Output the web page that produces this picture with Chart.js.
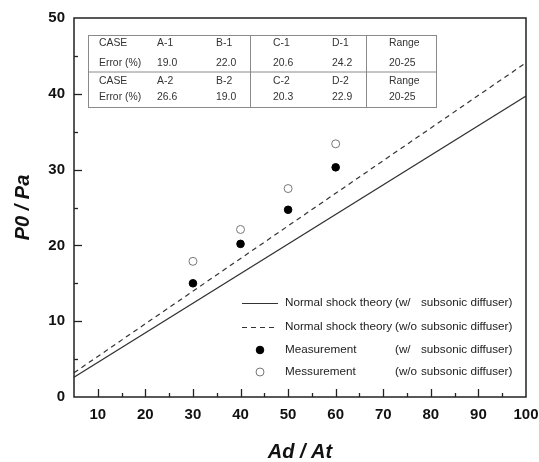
<!DOCTYPE html>
<html>
<head>
<meta charset="utf-8">
<script src="https://cdn.jsdelivr.net/npm/chart.js@4"></script>
<style>
  html, body { margin: 0; padding: 0; background: #fff; }
  #wrap { width: 539px; height: 462px; }
</style>
</head>
<body>
<div id="wrap"><canvas id="chart" width="539" height="462"></canvas></div>
<script>
// --- data ---
const xTicks = [10, 20, 30, 40, 50, 60, 70, 80, 90, 100];
const yTicks = [0, 10, 20, 30, 40, 50];

const theoryX = [5, 100];
const theoryWith = [2.6, 39.7];      // solid line
const theoryWithout = [3.2, 44.1];   // dashed line

const measX = [30, 40, 50, 60];
const measWith = [15.0, 20.2, 24.7, 30.3];     // filled dots
const measWithout = [17.9, 22.1, 27.5, 33.4];  // open dots

const legendNames = ['Normal shock theory', 'Normal shock theory', 'Measurement', 'Messurement'];
const legendConds = ['(w/', '(w/o', '(w/', '(w/o'];
const legendTail = 'subsonic diffuser)';

const tableRows = [
  ['CASE', 'A-1', 'B-1', 'C-1', 'D-1', 'Range'],
  ['Error (%)', '19.0', '22.0', '20.6', '24.2', '20-25'],
  ['CASE', 'A-2', 'B-2', 'C-2', 'D-2', 'Range'],
  ['Error (%)', '26.6', '19.0', '20.3', '22.9', '20-25']
];

const toPts = (xs, ys) => xs.map((x, i) => ({ x: x, y: ys[i] }));
const FONT = '"Liberation Sans", Arial, sans-serif';

// --- frame, inward ticks, table and legend ---
const decor = {
  id: 'decor',
  afterDatasetsDraw(chart) {
    const ctx = chart.ctx;
    const a = chart.chartArea;
    const xs = chart.scales.x, ys = chart.scales.y;
    ctx.save();

    // ticks pointing inward
    ctx.strokeStyle = '#222';
    ctx.lineWidth = 1.3;
    for (let v = 10; v < 100; v += 5) {
      const px = Math.round(xs.getPixelForValue(v)) + 0.5;
      const len = v % 10 === 0 ? 8 : 4;
      ctx.beginPath(); ctx.moveTo(px, a.bottom); ctx.lineTo(px, a.bottom - len); ctx.stroke();
    }
    for (let v = 5; v < 50; v += 5) {
      const py = Math.round(ys.getPixelForValue(v)) + 0.5;
      const len = v % 10 === 0 ? 8 : 4;
      ctx.beginPath(); ctx.moveTo(a.left, py); ctx.lineTo(a.left + len, py); ctx.stroke();
    }

    // frame
    ctx.lineWidth = 1.5;
    ctx.strokeRect(a.left, a.top, a.right - a.left, a.bottom - a.top);

    // table
    const tL = 88, tT = 35, tR = 436, tB = 107, tM = 71.5;
    ctx.strokeStyle = '#8a8a8a';
    ctx.lineWidth = 1;
    ctx.strokeRect(tL + 0.5, tT + 0.5, tR - tL, tB - tT);
    ctx.beginPath();
    ctx.moveTo(tL, tM + 0.5); ctx.lineTo(tR, tM + 0.5);
    ctx.moveTo(250.5, tT); ctx.lineTo(250.5, tB);
    ctx.moveTo(366.5, tT); ctx.lineTo(366.5, tB);
    ctx.stroke();

    const colX = [99, 157, 216, 273, 332, 389];
    const rowY = [43.5, 63, 81, 97];
    ctx.fillStyle = '#333';
    ctx.font = '10.4px ' + FONT;
    ctx.textBaseline = 'middle';
    ctx.textAlign = 'left';
    tableRows.forEach((row, r) => {
      row.forEach((txt, c) => ctx.fillText(txt, colX[c], rowY[r]));
    });

    // legend
    const lgY = [303, 327, 350, 372];
    ctx.font = '11.7px ' + FONT;
    chart.data.datasets.forEach((ds, i) => {
      const y = lgY[i];
      if (ds.showLine) {
        ctx.strokeStyle = '#333';
        ctx.lineWidth = 1.2;
        ctx.setLineDash(ds.borderDash || []);
        ctx.beginPath(); ctx.moveTo(242, y + 0.5); ctx.lineTo(278, y + 0.5); ctx.stroke();
        ctx.setLineDash([]);
      } else {
        ctx.beginPath();
        ctx.arc(260, y, ds.pointRadius, 0, Math.PI * 2);
        ctx.fillStyle = ds.pointBackgroundColor;
        ctx.fill();
        ctx.strokeStyle = ds.pointBorderColor;
        ctx.lineWidth = ds.pointBorderWidth;
        ctx.stroke();
      }
      ctx.fillStyle = '#222';
      ctx.fillText(legendNames[i], 285, y);
      ctx.fillText(legendConds[i], 395, y);
      ctx.fillText(legendTail, 421, y);
    });
    ctx.restore();
  }
};

new Chart(document.getElementById('chart'), {
  type: 'scatter',
  data: {
    datasets: [
      {
        label: 'Normal shock theory (w/ subsonic diffuser)',
        data: toPts(theoryX, theoryWith),
        showLine: true, borderColor: '#333', borderWidth: 1.2, pointRadius: 0
      },
      {
        label: 'Normal shock theory (w/o subsonic diffuser)',
        data: toPts(theoryX, theoryWithout),
        showLine: true, borderColor: '#333', borderWidth: 1.2, borderDash: [5, 4], pointRadius: 0
      },
      {
        label: 'Measurement (w/ subsonic diffuser)',
        data: toPts(measX, measWith),
        showLine: false, pointRadius: 3.8,
        pointBackgroundColor: '#000', pointBorderColor: '#000', pointBorderWidth: 1
      },
      {
        label: 'Messurement (w/o subsonic diffuser)',
        data: toPts(measX, measWithout),
        showLine: false, pointRadius: 4,
        pointBackgroundColor: '#fff', pointBorderColor: '#777', pointBorderWidth: 1
      }
    ]
  },
  options: {
    responsive: false,
    animation: false,
    layout: { padding: { top: 18, right: 13, left: 0, bottom: 0 } },
    plugins: { legend: { display: false }, tooltip: { enabled: false } },
    scales: {
      x: {
        type: 'linear', min: 5, max: 100,
        afterBuildTicks: s => { s.ticks = xTicks.map(v => ({ value: v })); },
        afterFit: s => { s.height = 65; s.paddingLeft = 0; s.paddingRight = 0; },
        grid: { display: false, drawTicks: false },
        border: { display: false },
        ticks: {
          autoSkip: false, maxRotation: 0, padding: 9, color: '#111',
          font: { family: FONT, size: 15, weight: 'bold' }
        },
        title: {
          display: true, text: 'Ad / At', color: '#111',
          font: { family: FONT, size: 20, weight: 'bold', style: 'italic', lineHeight: 1 },
          padding: { top: 0, bottom: 0 }
        }
      },
      y: {
        type: 'linear', min: 0, max: 50,
        afterBuildTicks: s => { s.ticks = yTicks.map(v => ({ value: v })); },
        afterFit: s => { s.width = 74; s.paddingTop = 0; s.paddingBottom = 0; },
        grid: { display: false, drawTicks: false },
        border: { display: false },
        ticks: {
          padding: 9, color: '#111',
          font: { family: FONT, size: 15, weight: 'bold' }
        },
        title: {
          display: true, text: 'P0 / Pa', color: '#111',
          font: { family: FONT, size: 20, weight: 'bold', style: 'italic', lineHeight: 1 },
          padding: { top: 13, bottom: 0 }
        }
      }
    }
  },
  plugins: [decor]
});
</script>
</body>
</html>
